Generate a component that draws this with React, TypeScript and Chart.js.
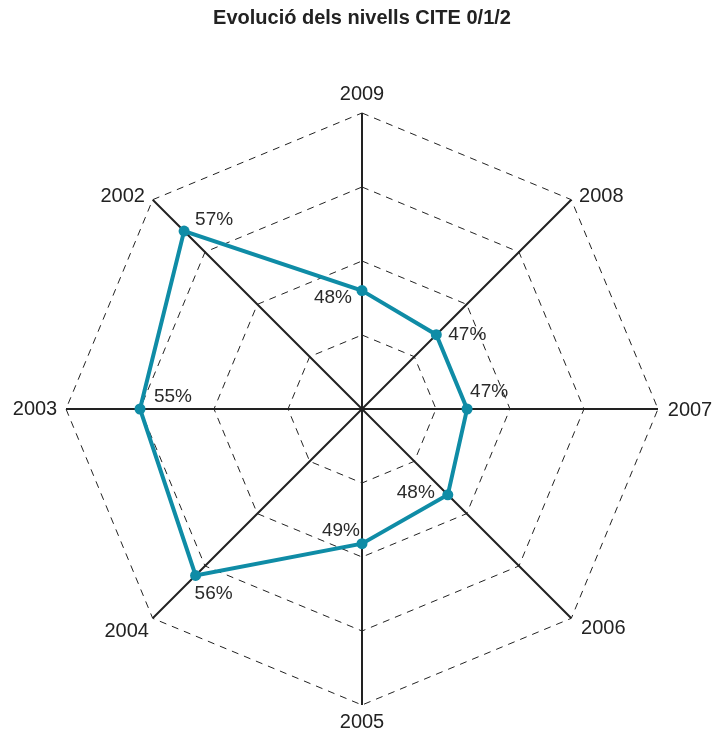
import React, { useEffect, useRef } from "react";
import { Chart, registerables } from "chart.js";

Chart.register(...registerables);

const TITLE = "Evolució dels nivells CITE 0/1/2";
const YEARS = ["2009", "2008", "2007", "2006", "2005", "2004", "2003", "2002"];
const VALUES = [48.0, 47.1, 47.1, 48.2, 49.1, 55.9, 55.0, 57.0];
const VALUE_LABELS = ["48%", "47%", "47%", "48%", "49%", "56%", "55%", "57%"];
const SCALE_MIN = 40;
const SCALE_MAX = 60;
const SCALE_STEP = 5;

// value label offsets relative to each point (text center)
const LABEL_OFFSETS: [number, number][] = [
  [-29, 7],
  [31, 0],
  [22, -17],
  [-32, -2],
  [-21, -13],
  [18, 18],
  [33, -12],
  [30, -11],
];

// year label offsets relative to the outer end of each axis (text center)
const YEAR_OFFSETS: [number, number][] = [
  [0, -19],
  [30, -3],
  [32, 1],
  [32, 10],
  [0, 17],
  [-26, 13],
  [-31, 0],
  [-30, -3],
];

const LINE_COLOR = "#0f8ca6";
const FONT = "'Liberation Sans', Arial, Helvetica, sans-serif";

const labelPlugin = {
  id: "customLabels",
  afterDatasetsDraw(chart: any) {
    const meta = chart.getDatasetMeta(0);
    const scale = chart.scales.r;
    const ctx = chart.ctx;
    ctx.save();
    ctx.textAlign = "center";
    ctx.textBaseline = "middle";
    ctx.fillStyle = "#222";
    ctx.font = `20px ${FONT}`;
    YEARS.forEach((y, i) => {
      const p = scale.getPointPositionForValue(i, SCALE_MAX);
      const [dx, dy] = YEAR_OFFSETS[i];
      ctx.fillText(y, p.x + dx, p.y + dy);
    });
    ctx.font = `19px ${FONT}`;
    ctx.fillStyle = "#2a2a2a";
    meta.data.forEach((el: any, i: number) => {
      const [dx, dy] = LABEL_OFFSETS[i];
      ctx.fillText(VALUE_LABELS[i], el.x + dx, el.y + dy);
    });
    ctx.restore();
  },
};

export default function App() {
  const ref = useRef<HTMLCanvasElement | null>(null);
  useEffect(() => {
    if (!ref.current) return;
    const chart = new Chart(ref.current, {
      type: "radar",
      data: {
        labels: YEARS,
        datasets: [
          {
            data: VALUES,
            borderColor: LINE_COLOR,
            backgroundColor: LINE_COLOR,
            borderWidth: 4,
            pointRadius: 5.5,
            pointBackgroundColor: LINE_COLOR,
            pointBorderWidth: 0,
            fill: false,
          },
        ],
      },
      options: {
        animation: false,
        responsive: true,
        maintainAspectRatio: false,
        layout: { padding: { left: 13, right: 5, top: 0, bottom: 0 } },
        plugins: {
          legend: { display: false },
          tooltip: { enabled: false },
          title: {
            display: true,
            text: TITLE,
            color: "#222",
            font: { family: FONT, size: 20, weight: "bold" },
            padding: { top: 6, bottom: 56 },
          },
        },
        scales: {
          r: {
            min: SCALE_MIN,
            max: SCALE_MAX,
            ticks: { display: false, stepSize: SCALE_STEP },
            grid: { color: "#222", lineWidth: 1 },
            border: { dash: [7, 6] },
            angleLines: { color: "#222", lineWidth: 2 },
            pointLabels: {
              color: "rgba(0,0,0,0)",
              font: { family: FONT, size: 20, lineHeight: 1.0 },
              padding: 7,
            },
          },
        },
      },
      plugins: [labelPlugin],
    });
    return () => chart.destroy();
  }, []);
  return (
    <div style={{ position: "absolute", left: 0, top: 0, width: 716, height: 733 }}>
      <canvas ref={ref} />
    </div>
  );
}
